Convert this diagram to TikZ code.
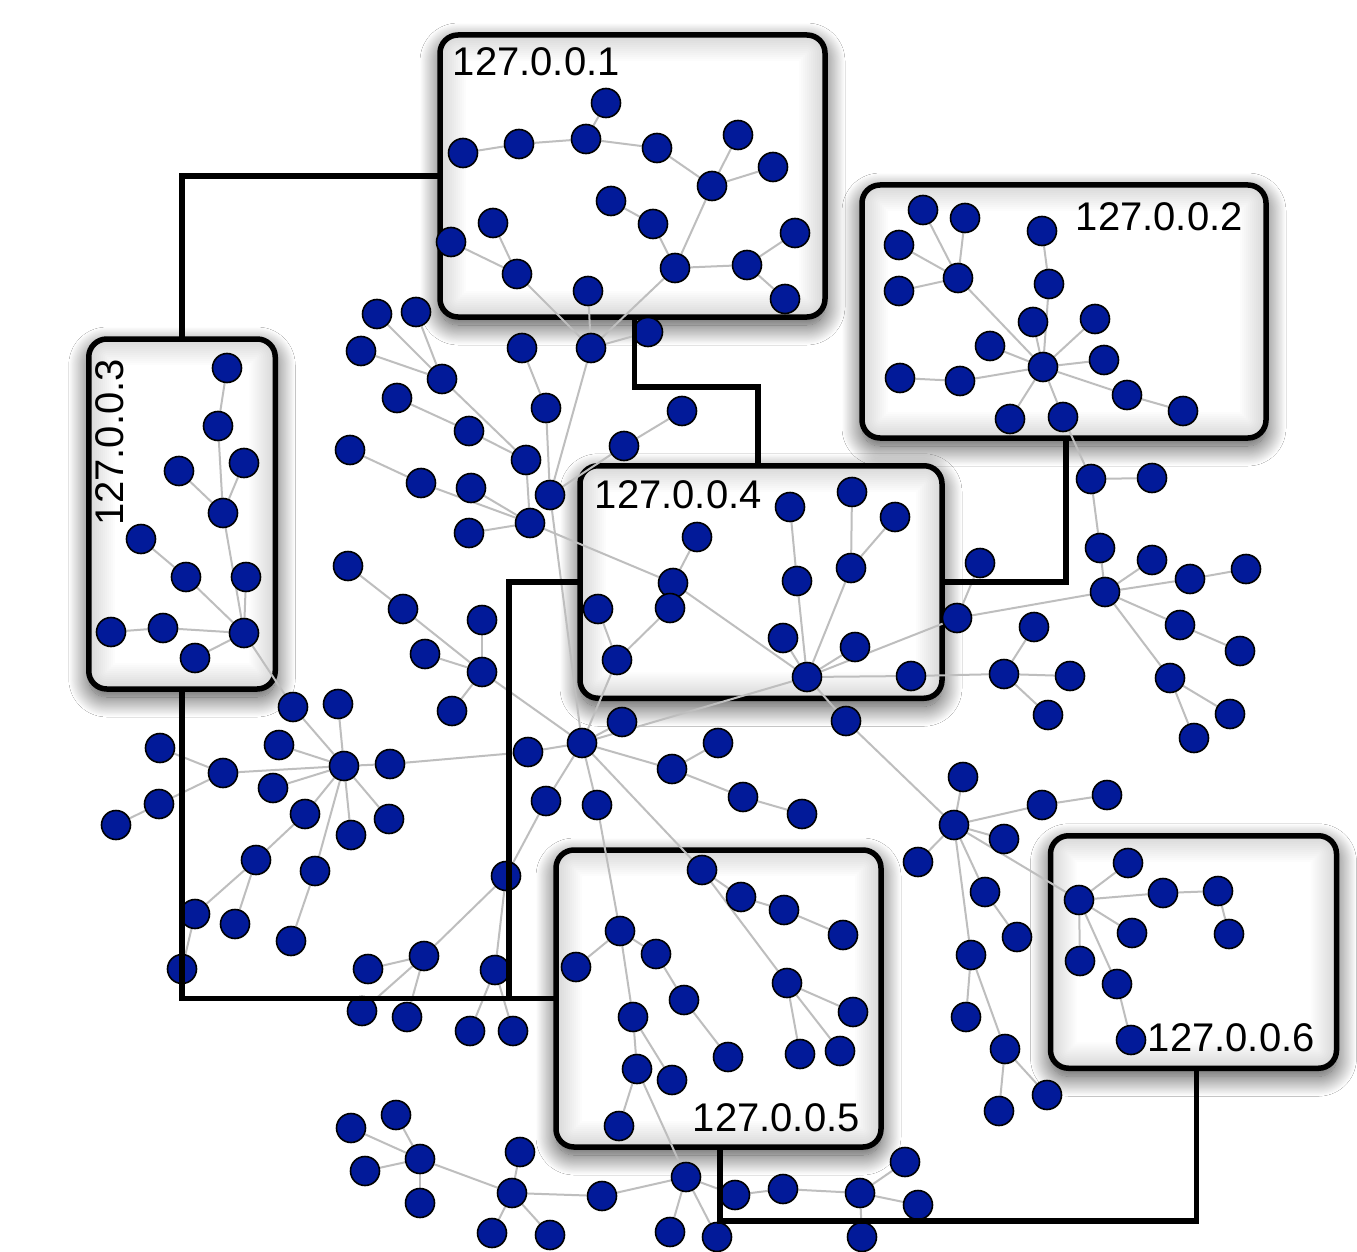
\documentclass[tikz,border=0pt]{standalone}
\usepackage{fontspec}
\setmainfont{Liberation Sans}
\usetikzlibrary{shadows.blur}
\definecolor{nodeblue}{RGB}{2,26,153}
\definecolor{edgegray}{RGB}{190,190,190}
\pgfdeclarelayer{boxlayer}
\pgfdeclarelayer{edgelayer}
\pgfdeclarelayer{toplayer}
\pgfsetlayers{boxlayer,edgelayer,main,toplayer}
\begin{document}
\begin{tikzpicture}[x=1pt,y=-1pt,
  nd/.style={circle, fill=nodeblue, draw=black, line width=1.6pt, minimum size=29pt, inner sep=0pt},
  lnk/.style={draw=edgegray, line width=2pt},
  conn/.style={draw=black, line width=5.5pt},
  lbl/.style={font=\fontsize{40}{40}\selectfont, inner sep=0pt, text=black},
  hostbox/.style={draw=black, line width=5.5pt, rounded corners=18pt, fill=white, inner sep=0pt, outer sep=0pt,
    blur shadow={shadow xshift=0pt, shadow yshift=-8pt, shadow blur radius=20pt, shadow blur steps=24, shadow opacity=75},
    path picture={
      \foreach \w in {4,8,...,52}
        \draw[black, opacity=0.013, line width=\w pt, rounded corners=18pt]
          (path picture bounding box.south west) rectangle (path picture bounding box.north east);
    }}
]
\useasboundingbox (0,0) rectangle (1357,1252);

\begin{pgfonlayer}{boxlayer}
  \fill[white] (0,0) rectangle (1357,1252);
  \node[hostbox, minimum width=385pt, minimum height=282pt] (B1) at (632.5,176) {};
  \node[hostbox, minimum width=404pt, minimum height=253pt] (B2) at (1064,311.5) {};
  \node[hostbox, minimum width=186.5pt, minimum height=350pt] (B3) at (182,514) {};
  \node[hostbox, minimum width=362pt, minimum height=232.5pt] (B4) at (761,582) {};
  \node[hostbox, minimum width=325pt, minimum height=297pt] (B5) at (718.5,998.5) {};
  \node[hostbox, minimum width=286pt, minimum height=232.5pt] (B6) at (1193.5,952) {};
\end{pgfonlayer}

% nodes
\foreach \n/\x/\y in {
  a1/606/103, a2/586/139, a3/519/144, a4/463/153, a5/657/148, a6/712/186, a7/738/135, a8/773/167,
  a9/611/201, a10/653/224, a11/675/268, a12/747/265, a13/795/233, a14/785/299, a15/493/223,
  a16/451/242, a17/517/274, a18/588/291,
  b1/591/348, b2/648/332, b3/550/495, c1/522/348, c2/546/408, c3/526/460, c4/469/431, c5/530/523,
  c6/624/446, c7/682/411,
  w1/377/314, w2/416/312, w3/361/351, w4/442/379, w5/397/398, w6/350/450, w7/421/483, w8/471/488,
  w9/469/533, w10/348/566, w11/403/609, w12/482/620, w13/425/654, w14/482/672, w15/452/711,
  e1/227/368, e2/218/426, e3/179/471, e4/244/463, e5/223/513, e6/141/539, e7/186/577, e8/246/577,
  e9/244/633, e10/111/632, e11/163/628, e12/195/658,
  f1/293/707, f2/338/704, f3/344/766, f4/279/745, f5/390/764, f6/223/773, f7/160/748, f8/159/804,
  f9/116/825, f10/273/788, f11/305/814, f12/351/835, f13/389/819, f14/256/860, f15/315/871,
  f16/195/914, f17/235/924, f18/291/941, f19/182/969,
  g1/528/752, H/582/743, h1/622/722, h2/546/801, h3/597/805, h4/672/769, h5/718/743, h6/743/797,
  h7/802/814, h8/506/876,
  q1/424/956, q2/495/970, q3/470/1031, q4/513/1031, q5/368/969, q6/362/1011, q7/407/1017,
  d1/673/583, d2/697/537, d3/670/608, d4/598/609, d5/617/660, d6/790/507, d7/852/492, d8/895/517,
  d9/797/581, d10/851/568, d11/783/638, d12/855/647, d13/807/677, d14/911/676,
  m1/846/721, k1/957/618, k3/980/563, k2/1105/592,
  s1/923/210, s2/965/218, s3/899/245, s4/958/278, s5/899/291, s6/1042/231, s7/1049/284, s8/1033/322,
  s9/1095/319, s10/990/346, s11/1043/367, s12/1104/360, s13/900/378, s14/960/381, s15/1127/395,
  s16/1183/411, s17/1010/419, s18/1063/417,
  t1/1091/479, t2/1152/478, t3/1100/548, t4/1152/560, t5/1190/579, t6/1246/569, t7/1180/625,
  t8/1170/678, t9/1240/651, t10/1230/714, t11/1194/738,
  u1/1034/627, u2/1004/674, u3/1070/676, u4/1048/715,
  n1/954/825, n2/963/777, n3/1042/805, n4/1107/795, n5/1004/839, n6/918/862, n7/985/892,
  n8/1017/937, n9/971/955, n11/966/1017, n12/1005/1049, n13/999/1111, n14/1047/1095,
  v1/1079/900, v2/1128/863, v3/1163/893, v4/1218/891, v5/1229/934, v6/1132/933, v7/1080/961,
  v8/1117/984, v9/1131/1040,
  p1/702/870, p2/620/931, p3/741/897, p4/784/910, p5/843/935, p6/576/967, p7/656/954, p8/684/1000,
  p9/633/1017, p10/728/1057, p11/637/1069, p12/672/1080, p13/619/1126, p14/787/983, p15/853/1012,
  p16/800/1054, p17/840/1051,
  r1/396/1115, r2/351/1128, r3/420/1159, r4/365/1171, r5/420/1203, r6/512/1193, r7/520/1152,
  r8/492/1233, r9/550/1235, r10/602/1196, r11/686/1177, r12/670/1232, r13/717/1237, r14/735/1195,
  r15/783/1189, r16/860/1193, r17/862/1237, r18/905/1162, r19/918/1205}
  \node[nd] (\n) at (\x,\y) {};

% gray links
\begin{pgfonlayer}{edgelayer}
\foreach \a/\b in {
  a4/a3, a3/a2, a2/a1, a2/a5, a5/a6, a6/a7, a6/a8, a6/a11, a9/a10, a10/a11, a11/a12, a12/a13,
  a12/a14, a15/a17, a16/a17, a17/b1, a18/b1, a11/b1, b1/b2, b1/b3, c1/c2, c2/b3, b3/c6, c6/c7, b3/H,
  w1/w4, w2/w4, w3/w4, w4/c3, w5/c4, c4/c3, c3/c5, w6/w7, w7/c5, w8/c5, w9/c5, c5/d1,
  w10/w11, w11/w14, w12/w14, w13/w14, w15/w14, w14/H,
  e1/e2, e2/e5, e3/e5, e4/e5, e5/e9, e6/e7, e7/e9, e8/e9, e10/e11, e11/e9, e12/e9, e9/f1,
  f1/f3, f2/f3, f4/f3, f5/f3, f10/f3, f11/f3, f12/f3, f13/f3, f15/f3, f6/f3, f6/f7, f6/f8, f8/f9,
  f11/f14, f14/f16, f14/f17, f15/f18, f16/f19, f5/g1, g1/H,
  H/h1, H/h2, H/h3, H/h4, h4/h5, h4/h6, h6/h7, H/p1, H/d5, H/d13, h2/h8, h8/q1, h8/q2,
  q1/q5, q1/q6, q1/q7, q2/q3, q2/q4, h3/p2,
  d1/d2, d1/d13, d5/d4, d5/d3, d6/d9, d9/d13, d7/d10, d8/d10, d10/d13, d11/d13, d12/d13, d13/d14,
  d14/u2, d13/k1, d13/m1, m1/n1, k1/k3, k1/k2, u2/u1, u2/u3, u2/u4,
  s1/s4, s2/s4, s3/s4, s5/s4, s4/s11, s6/s7, s7/s11, s8/s11, s9/s11, s10/s11, s12/s11, s14/s11,
  s13/s14, s15/s11, s15/s16, s17/s11, s18/s11, s18/t1,
  t1/t2, t1/t3, t3/k2, k2/t4, k2/t5, t5/t6, k2/t7, t7/t9, k2/t8, t8/t10, t8/t11,
  n1/n2, n1/n3, n3/n4, n1/n5, n1/n6, n1/n7, n7/n8, n1/n9, n9/n11, n9/n12, n12/n13, n12/n14, n1/v1,
  v1/v2, v1/v3, v3/v4, v4/v5, v1/v6, v1/v7, v1/v8, v8/v9,
  p1/p3, p3/p4, p4/p5, p1/p14, p14/p15, p14/p16, p14/p17, p2/p6, p2/p7, p2/p9, p7/p8, p8/p10,
  p9/p11, p9/p12, p11/p13, p11/r11,
  r1/r3, r2/r3, r4/r3, r5/r3, r3/r6, r6/r7, r6/r8, r6/r9, r6/r10, r10/r11, r11/r12, r11/r13,
  r11/r14, r14/r15, r15/r16, r16/r17, r16/r18, r16/r19}
  \draw[lnk] (\a) -- (\b);
\end{pgfonlayer}

% black connectors and labels
\begin{pgfonlayer}{toplayer}
  \draw[conn] (B1.west) -| (B3.north);
  \draw[conn] (B1.south -| 634.5,0) |- (758,387) -- (B4.north -| 758,0);
  \draw[conn] (B2.south -| 1066,0) |- (B4.east);
  \draw[conn] (B3.south) |- (B5.west);
  \draw[conn] (B4.west) -| (B5.west -| 509,0);
  \draw[conn] (B5.south -| 720,0) |- (1196.5,1221) -- (B6.south -| 1196.5,0);

  \node[lbl, anchor=base west] (L1) at (452.6,76) {127.0.0.1};
  \node[lbl, anchor=base west] (L2) at (1075.6,230) {127.0.0.2};
  \node[lbl, rotate=90] (L3) at (110,442.5) {127.0.0.3};
  \node[lbl, anchor=base west] (L4) at (594.6,508) {127.0.0.4};
  \node[lbl, anchor=base west] (L5) at (692.6,1131) {127.0.0.5};
  \node[lbl, anchor=base west] (L6) at (1147.6,1051) {127.0.0.6};
\end{pgfonlayer}
\end{tikzpicture}
\end{document}
